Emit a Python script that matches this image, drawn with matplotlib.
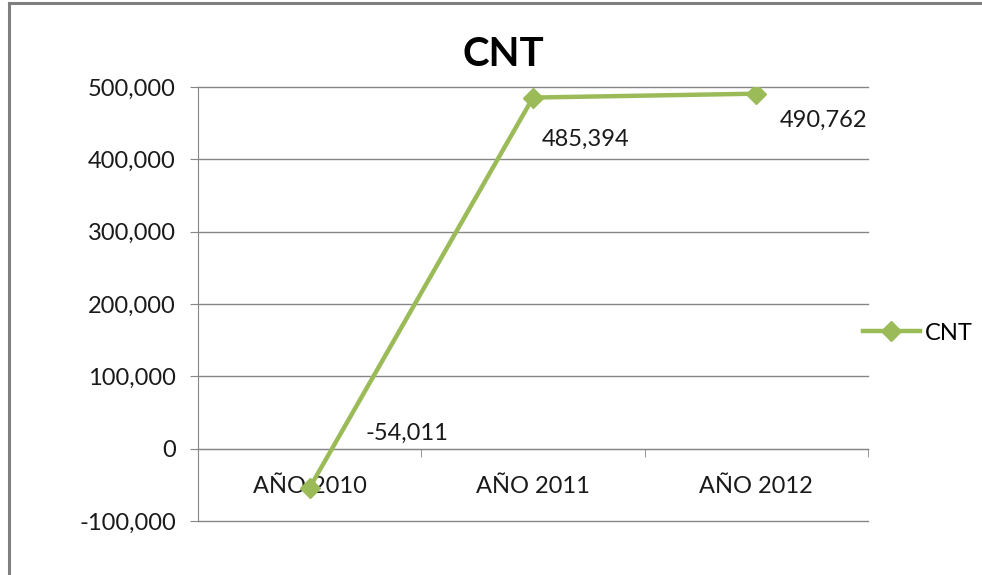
import numpy as np
import matplotlib
matplotlib.use("Agg")
from matplotlib import pyplot as plt
from matplotlib.lines import Line2D
from matplotlib.ticker import FuncFormatter, FixedLocator

plt.rcParams['font.family'] = ['Lato', 'DejaVu Sans']

categories = ['AÑO 2010', 'AÑO 2011', 'AÑO 2012']
values = [-54011, 485394, 490762]
series_name = 'CNT'
# label offsets in points (label left edge / centre relative to marker)
label_offsets = [(40, 39), (6, -30), (17, -19)]

green = '#9BBB59'
grid_gray = '#868686'
fs = 17

fig = plt.figure(figsize=(9.82, 5.75), dpi=100)
ax = fig.add_axes([198 / 982, 1 - 521 / 575, (868 - 198) / 982, (521 - 87) / 575])

# outer chart frame (left and top only are visible)
fig.add_artist(Line2D([9 / 982, 9 / 982], [0, 1 - 3 / 575], transform=fig.transFigure,
                      color='#7f7f7f', lw=2.2))
fig.add_artist(Line2D([9 / 982, 1], [1 - 3 / 575, 1 - 3 / 575], transform=fig.transFigure,
                      color='#7f7f7f', lw=2.2))

x = np.arange(len(categories))
ax.plot(x, values, color=green, lw=3.2, marker='D', markersize=10,
        markerfacecolor=green, markeredgecolor=green, label=series_name, zorder=3)

for xi, v, (dx, dy) in zip(x, values, label_offsets):
    ax.annotate(f'{v:,}', (xi, v), xytext=(dx, dy), textcoords='offset points',
                ha='left', va='center', fontsize=fs, color='#1a1a1a')

ax.set_xlim(-0.5, len(categories) - 0.5)
ax.set_ylim(-100000, 500000)
ax.set_yticks(np.arange(-100000, 500001, 100000))
ax.yaxis.set_major_formatter(FuncFormatter(lambda v, p: f'{int(v):,}'))
ax.grid(axis='y', color=grid_gray, lw=1)
ax.set_axisbelow(True)
for gl in ax.get_ygridlines():
    gl.set_clip_on(False)

for s in ['top', 'right']:
    ax.spines[s].set_visible(False)
ax.spines['left'].set_color(grid_gray)
ax.spines['bottom'].set_color(grid_gray)
ax.spines['bottom'].set_position(('data', 0))

ax.set_xticks(x)
ax.set_xticklabels(categories)
ax.xaxis.set_minor_locator(FixedLocator([0.5, 1.5, 2.5]))
ax.tick_params(axis='x', which='major', length=0, pad=20, labelsize=fs, labelcolor='#1a1a1a')
ax.tick_params(axis='x', which='minor', length=6, color=grid_gray, direction='out')
ax.tick_params(axis='y', length=6, color=grid_gray, pad=10, labelsize=fs, labelcolor='#1a1a1a')

fig.text(503 / 982, 1 - 54 / 575, 'CNT', ha='center', va='center', fontsize=29, fontweight='bold')

ax.legend(loc='center left', bbox_to_anchor=(863 / 982, 1 - 333 / 575), bbox_transform=fig.transFigure,
          frameon=False, fontsize=fs, handlelength=2.4, handletextpad=0.2, borderpad=0, borderaxespad=0)

plt.savefig('out.png', dpi=100)
